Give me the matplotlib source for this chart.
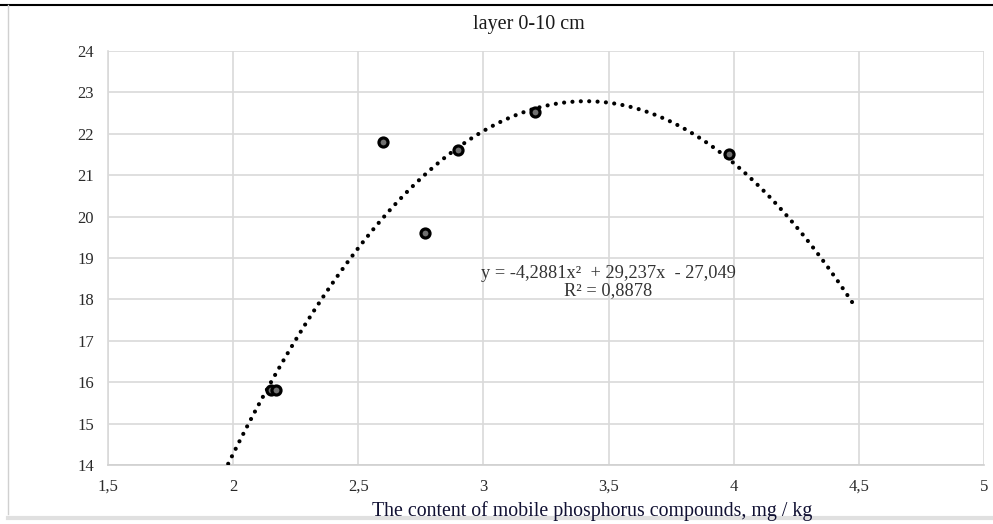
import numpy as np
import matplotlib.pyplot as plt
from matplotlib.lines import Line2D

# measured points
x_pts = [2.15, 2.17, 2.60, 2.765, 2.90, 3.205, 3.98]
y_pts = [15.8, 15.8, 21.8, 19.6, 21.6, 22.52, 21.5]

# polynomial trend (from the equation on the chart)
coef = [-4.2881, 29.237, -27.049]
x_start = 1.98
x_end = 4.48

x_ticks = [1.5, 2, 2.5, 3, 3.5, 4, 4.5, 5]
x_tick_labels = ["1,5", "2", "2,5", "3", "3,5", "4", "4,5", "5"]
y_ticks = [14, 15, 16, 17, 18, 19, 20, 21, 22, 23, 24]

plt.rcParams['font.family'] = ['Liberation Serif', 'DejaVu Serif']

fig = plt.figure(figsize=(9.93, 5.24), dpi=100)
ax = fig.add_axes([0.1088, 0.1126, 0.8822, 0.7901])

xs = np.linspace(x_start, x_end, 300)
ys = np.polyval(coef, xs)
ax.plot(xs, ys, color='black', linewidth=3.0, linestyle=(0, (0.01, 2.0)),
        dash_capstyle='round', zorder=3)

ax.plot(x_pts, y_pts, 'o', markersize=6.5, markerfacecolor='#707070',
        markeredgecolor='black', markeredgewidth=2.3, zorder=4)

ax.set_xlim(1.5, 5)
ax.set_ylim(14, 24)
ax.set_xticks(x_ticks)
ax.set_xticklabels(x_tick_labels)
ax.set_yticks(y_ticks)
ax.grid(True, color='#d9d9d9', linewidth=1.2)
ax.set_axisbelow(True)
for s in ['top', 'right']:
    ax.spines[s].set_visible(False)
ax.spines['left'].set_color('#d9d9d9')
ax.spines['bottom'].set_color('#d0d0d0')
ax.spines['left'].set_linewidth(1.2)
ax.spines['bottom'].set_linewidth(1.2)
ax.tick_params(length=0, labelsize=12, colors='#2a2a2a', pad=10)

fig.text(529 / 993, 1 - 25 / 524, "layer 0-10 cm", ha='center', va='center',
         fontsize=14.5, color='#1a1a1a')
fig.text(592 / 993, 1 - 511 / 524,
         "The content of mobile phosphorus compounds, mg / kg",
         ha='center', va='center', fontsize=14.3, color='#111133')

ax.text(3.5, 18.42, "y = -4,2881x²  + 29,237x  - 27,049\nR² = 0,8878",
        ha='center', va='center', fontsize=13.2, color='#333333',
        linespacing=1.0)

# frame lines of the original picture
fig.add_artist(Line2D([0, 1], [1 - 5 / 524, 1 - 5 / 524], color='black',
                      linewidth=1.5))
fig.add_artist(Line2D([8 / 993, 8 / 993], [0.02, 1 - 5 / 524], color='#d0d0d0',
                      linewidth=1))
fig.add_artist(Line2D([8 / 993, 1], [0.012, 0.012], color='#e0e0e0',
                      linewidth=3))

fig.savefig("out.png", dpi=100)
